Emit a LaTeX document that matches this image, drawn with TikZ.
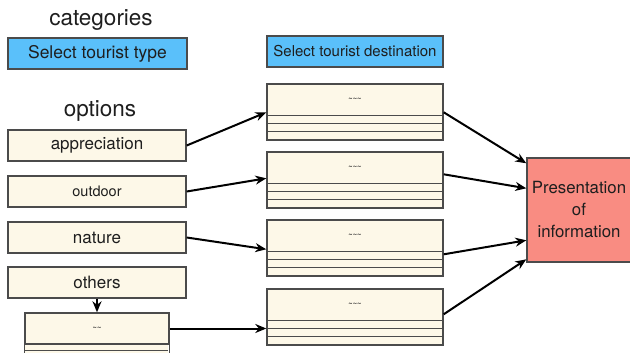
\documentclass[tikz,border=0pt]{standalone}
\usepackage{fontspec}
\setmainfont{TeX Gyre Heros}
\usetikzlibrary{calc,arrows.meta}
\definecolor{skyfill}{RGB}{90,192,250}
\definecolor{creamfill}{RGB}{253,248,232}
\definecolor{salmonfill}{RGB}{249,140,130}
\definecolor{edgegray}{RGB}{75,75,75}
\definecolor{textgray}{RGB}{30,30,30}
\tikzset{
  headbox/.style={draw=edgegray,line width=1.4pt,fill=skyfill,minimum height=31pt,inner sep=0pt,text=textgray},
  optbox/.style={draw=edgegray,line width=1.4pt,fill=creamfill,minimum width=178pt,minimum height=31pt,inner sep=0pt,text=textgray,font=\fontsize{17}{19}\selectfont},
  destbox/.style={draw=edgegray,line width=1.4pt,fill=creamfill,minimum width=176pt,minimum height=56pt,inner sep=0pt},
  rowline/.style={draw=edgegray,line width=1.4pt},
  tildes/.style={font=\fontsize{7.5}{8}\selectfont\bfseries,text=textgray},
  title/.style={font=\fontsize{22.5}{26}\selectfont,text=textgray,anchor=base},
  link/.style={line width=2pt,-{Stealth[length=11pt,width=9pt]}}
}
\begin{document}
\begin{tikzpicture}[x=1pt,y=-1pt]
\clip (0,0) rectangle (630,353);
\fill[white] (0,0) rectangle (630,353);

% column titles
\node[title] (cat) at (101,26) {categories};
\node[title] (opt) at (100,117) {options};
\node[headbox,minimum width=179pt,font=\fontsize{17.5}{20}\selectfont] (seltype) at (97.5,53.5) {Select tourist type};
\node[headbox,minimum width=176pt,font=\fontsize{15}{17}\selectfont] (seldest) at (355,51.5) {Select tourist destination};

% option boxes
\node[optbox] (o1) at (97,145.5) {appreciation};
\node[optbox,font=\fontsize{14.5}{16}\selectfont] (o2) at (97,191.5) {outdoor};
\node[optbox] (o3) at (97,237.5) {nature};
\node[optbox] (o4) at (97,282.5) {others};

% free-entry box below "others"
\node[draw=edgegray,line width=1.4pt,fill=creamfill,minimum width=144pt,minimum height=31pt,inner sep=0pt] (o5) at (97,328.5) {};
\fill[creamfill] (o5.south west) rectangle ++(144,30);
\draw[rowline] (o5.south west) -- ++(0,30) (o5.south east) -- ++(0,30);
\draw[rowline] ($(o5.south west)+(0,6)$) -- ++(144,0);
\node[tildes] at (o5.center) {\char`\~\char`\~};

% destination boxes: a header with three rows beneath
\foreach \i/\top in {1/84,2/152,3/220,4/289}{
  \node[destbox] (d\i) at (355,\top+28) {};
  \foreach \r in {32,40,48}{
    \draw[rowline] ($(d\i.north west)+(0,\r)$) -- ($(d\i.north east)+(0,\r)$);
  }
  \node[tildes] at ($(d\i.north)+(0,16)$) {\char`\~\char`\~\char`\~};
}

% result box
\node[draw=edgegray,line width=1.4pt,fill=salmonfill,minimum width=104pt,minimum height=104pt,inner sep=0pt,
      align=center,text=textgray,font=\fontsize{16.8}{22}\selectfont] (p) at (579,210) {Presentation\\of\\information};

% connectors
\draw[link] (o1.east) -- ($(d1.north west)+(0,29)$);
\draw[link] (o2.east) -- ($(d2.north west)+(0,27)$);
\draw[link] (o3.east) -- ($(d3.north west)+(0,30)$);
\draw[link] (o4.south) -- (o5.north);
\draw[link] (o5.east) -- (d4.west |- o5.east);

\draw[link] ($(d1.north east)+(0,29)$) -- ($(p.north west)+(0,6)$);
\draw[link] ($(d2.north east)+(0,23)$) -- ($(p.north west)+(0,31)$);
\draw[link] ($(d3.north east)+(0,35)$) -- ($(p.north west)+(0,83)$);
\draw[link] ($(d4.north east)+(0,26)$) -- ($(p.north west)+(0,102)$);
\end{tikzpicture}
\end{document}
